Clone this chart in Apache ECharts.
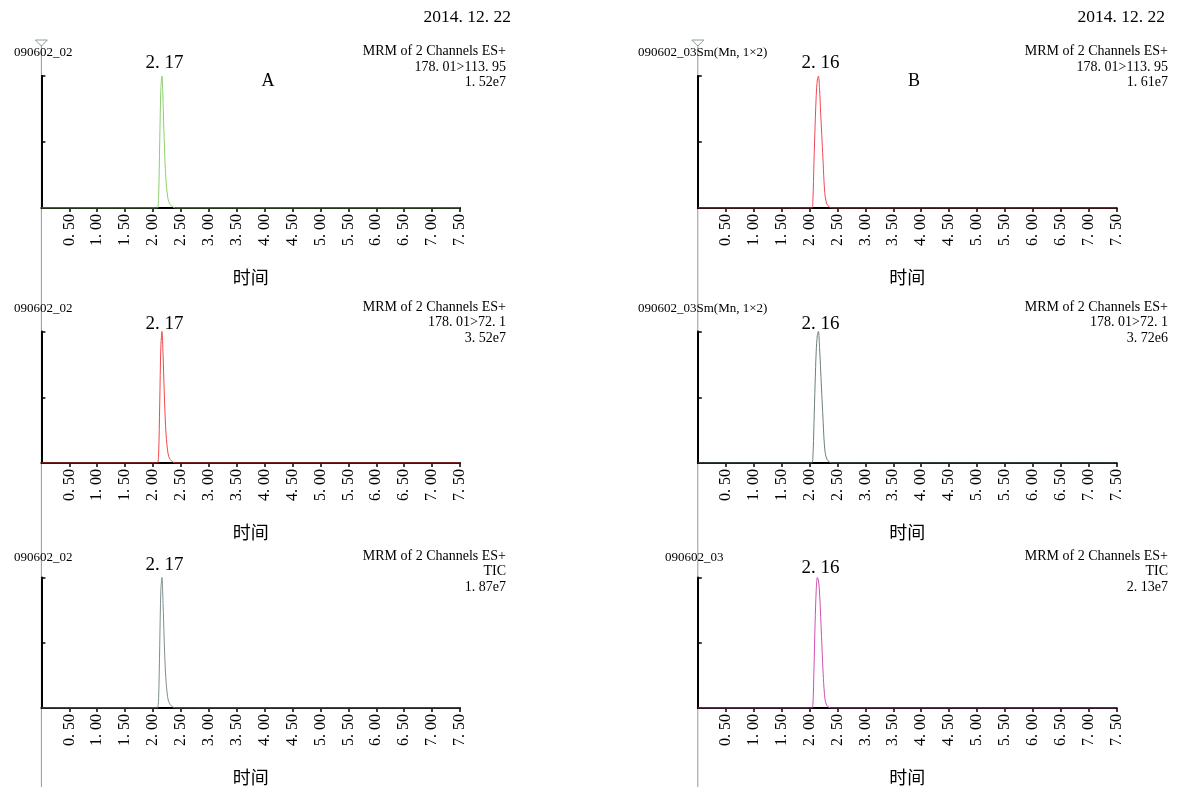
<!DOCTYPE html>
<html>
<head>
<meta charset="utf-8">
<script src="https://cdn.jsdelivr.net/npm/echarts@6/dist/echarts.min.js"></script>
<style>
html,body{margin:0;padding:0;background:#fff;}
#main{width:1184px;height:787px;}
</style>
</head>
<body>
<div id="main"></div>
<script>
// retention time grid (min) and relative intensity (%) per trace
var times = [0, 2.04, 2.06, 2.08, 2.10, 2.12, 2.14, 2.16, 2.18, 2.20, 2.22, 2.24, 2.26, 2.28, 2.31, 2.35, 2.40, 7.5];
var intA1 = [0, 0, 0, 0, 8, 50, 90, 100, 80, 52, 30, 17, 9, 5, 2.5, 1, 0, 0];
var intA2 = [0, 0, 0, 0, 6, 45, 88, 100, 82, 55, 32, 18, 10, 5, 2.5, 1, 0, 0];
var intA3 = [0, 0, 0, 0, 7, 48, 90, 100, 80, 52, 30, 17, 9, 5, 2.5, 1, 0, 0];
var intB1 = [0, 0, 5, 35, 62, 85, 97, 100, 90, 72, 55, 38, 20, 9, 3, 1, 0, 0];
var intB2 = [0, 0, 4, 30, 60, 85, 97, 100, 88, 70, 52, 35, 18, 8, 3, 1, 0, 0];
var intB3 = [0, 0, 2, 30, 65, 90, 100, 98, 88, 70, 50, 30, 15, 6, 2, 0.5, 0, 0];

var traces = [intA1, intA2, intA3, intB1, intB2, intB3];
var traceColors = ['#8cd06c', '#f04848', '#7e8e8e', '#f04858', '#6e7e7e', '#d050b0'];
var peakTimes = [2.17, 2.17, 2.17, 2.16, 2.16, 2.16];
var peakLabels = ['2. 17', '2. 17', '2. 17', '2. 16', '2. 16', '2. 16'];
var sampleNames = ['090602_02', '090602_02', '090602_02', '090602_03Sm(Mn, 1×2)', '090602_03Sm(Mn, 1×2)', '090602_03'];
var channelLines = ['178. 01>113. 95', '178. 01>72. 1', 'TIC', '178. 01>113. 95', '178. 01>72. 1', 'TIC'];
var maxIntensity = ['1. 52e7', '3. 52e7', '1. 87e7', '1. 61e7', '3. 72e6', '2. 13e7'];
var panelLetters = ['A', 'B'];
var runDate = '2014. 12. 22';
var tickLabels = ['', '0. 50', '1. 00', '1. 50', '2. 00', '2. 50', '3. 00', '3. 50', '4. 00', '4. 50', '5. 00', '5. 50', '6. 00', '6. 50', '7. 00', '7. 50'];

var chart = echarts.init(document.getElementById('main'));
var serif = '"Liberation Serif", "DejaVu Serif", serif';

var colLeft = [41.4, 697.8];
var colRight = [724, 67.3];
var rowTop = [76, 331.5, 577.5];
var rowBottom = [579, 324, 79];
var textShift = [0, 0, 3];
var labelDist = [6, 0, 5, 6, 0, 2];

var grids = [], xAxes = [], yAxes = [], series = [], graphics = [];

for (var i = 0; i < 6; i++) {
    var c = i < 3 ? 0 : 1;
    var r = i % 3;
    grids.push({left: colLeft[c], right: colRight[c], top: rowTop[r], bottom: rowBottom[r], outerBoundsMode: 'none', containLabel: false});
    xAxes.push({
        type: 'value', gridIndex: i, min: 0, max: 7.5, interval: 0.5,
        name: '时间', nameLocation: 'middle', nameGap: 60,
        nameTextStyle: {fontFamily: '"Noto Sans CJK SC"', fontSize: 18, color: '#000'},
        axisLine: {lineStyle: {color: '#000', width: 2}},
        axisTick: {length: 4, lineStyle: {color: '#000', width: 1.5}},
        axisLabel: {
            rotate: 90, margin: 6, fontFamily: serif, fontSize: 16, color: '#000',
            showMinLabel: false,
            formatter: function (v) { return tickLabels[Math.round(v / 0.5)]; }
        },
        splitLine: {show: false}
    });
    yAxes.push({
        type: 'value', gridIndex: i, min: 0, max: 100, interval: 50,
        axisLine: {show: true, lineStyle: {color: '#000', width: 2}},
        axisTick: {show: true, inside: true, length: 4, lineStyle: {color: '#000', width: 1.5}},
        axisLabel: {show: false},
        splitLine: {show: false}
    });
    var pts = [];
    for (var k = 0; k < times.length; k++) pts.push([times[k], traces[i][k]]);
    series.push({
        type: 'line', xAxisIndex: i, yAxisIndex: i, data: pts,
        showSymbol: false, smooth: 0.3,
        lineStyle: {color: traceColors[i], width: 1},
        silent: true,
        markPoint: {
            symbol: 'circle', symbolSize: 1, itemStyle: {color: 'rgba(0,0,0,0)'},
            label: {
                show: true, position: 'top', distance: labelDist[i], offset: [2, 3],
                fontFamily: serif, fontSize: 19, color: '#000',
                formatter: peakLabels[i]
            },
            data: [{coord: [peakTimes[i], 100]}]
        }
    });

    // header texts of the trace
    var idX = c === 0 ? 14 : (r === 2 ? 665 : 638);
    var rightX = c === 0 ? 506 : 1168;
    var t = rowTop[r] + textShift[r];
    graphics.push({type: 'text', style: {text: sampleNames[i], x: idX, y: t - 23, font: '13px ' + serif, fill: '#000', textVerticalAlign: 'middle', verticalAlign: 'middle'}});
    var lines = ['MRM of 2 Channels ES+', channelLines[i], maxIntensity[i]];
    for (var j = 0; j < 3; j++) {
        graphics.push({type: 'text', style: {text: lines[j], x: rightX, y: t - 24.5 + j * 15.5, font: '14px ' + serif, fill: '#000', textAlign: 'right', align: 'right', textVerticalAlign: 'middle', verticalAlign: 'middle'}});
    }
}

// date, panel letters
graphics.push({type: 'text', style: {text: runDate, x: 511, y: 17, font: '17.5px ' + serif, fill: '#000', textAlign: 'right', align: 'right', textVerticalAlign: 'middle', verticalAlign: 'middle'}});
graphics.push({type: 'text', style: {text: runDate, x: 1165, y: 17, font: '17.5px ' + serif, fill: '#000', textAlign: 'right', align: 'right', textVerticalAlign: 'middle', verticalAlign: 'middle'}});
graphics.push({type: 'text', style: {text: panelLetters[0], x: 268, y: 81, font: '18px ' + serif, fill: '#000', textAlign: 'center', align: 'center', textVerticalAlign: 'middle', verticalAlign: 'middle'}});
graphics.push({type: 'text', style: {text: panelLetters[1], x: 914, y: 81, font: '18px ' + serif, fill: '#000', textAlign: 'center', align: 'center', textVerticalAlign: 'middle', verticalAlign: 'middle'}});

chart.setOption({
    backgroundColor: '#fff',
    animation: false,
    grid: grids,
    xAxis: xAxes,
    yAxis: yAxes,
    series: series,
    graphic: graphics
});

// cursor line at t = 0 running through each column
var cursors = [];
[0, 3].forEach(function (idx) {
    var px = chart.convertToPixel({xAxisIndex: idx}, 0);
    cursors.push({type: 'line', z: -1, shape: {x1: px, y1: 45, x2: px, y2: 787}, style: {stroke: '#8c9c9c', lineWidth: 1}});
    cursors.push({type: 'polygon', shape: {points: [[px - 6, 40], [px + 6, 40], [px, 46]]}, style: {stroke: '#8c9c9c', fill: 'none', lineWidth: 1}});
});
chart.setOption({graphic: graphics.concat(cursors)});
</script>
</body>
</html>
